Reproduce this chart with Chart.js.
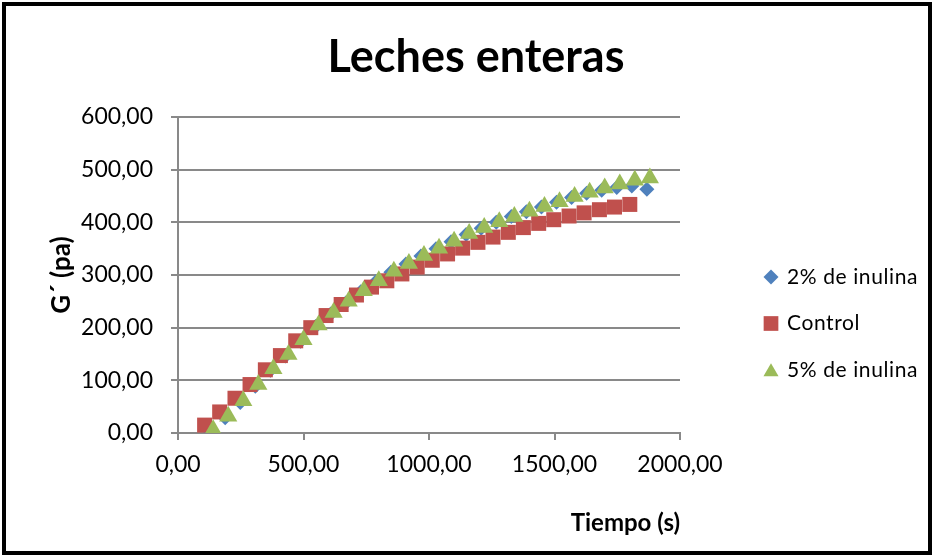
<!DOCTYPE html>
<html>
<head>
<meta charset="utf-8">
<script src="https://cdn.jsdelivr.net/npm/chart.js@4.4.0/dist/chart.umd.min.js"></script>
<style>
body { margin: 0; background: #fff; }
</style>
</head>
<body>
<canvas id="grafico" width="934" height="556"></canvas>
<script>
// Tiempo (s) y G´ (pa) de cada muestra
const tiempo2 = [128, 188, 248, 308, 368, 428, 488, 548, 608, 668, 728, 788, 848, 908, 968,
    1028, 1088, 1148, 1208, 1268, 1328, 1388, 1448, 1508, 1568, 1628, 1688, 1748, 1808, 1868];
const inulina2 = [3, 29, 58, 89, 119, 146, 174, 202, 226, 247, 268, 287, 305, 321, 336,
    350, 363, 377, 389, 400, 411, 420, 429, 438, 447, 455, 461, 466, 469, 463];

const tiempoControl = [106, 166, 227, 287, 348, 408, 469, 529, 590, 650, 711, 771, 832, 892, 953,
    1013, 1074, 1134, 1195, 1255, 1316, 1376, 1437, 1497, 1558, 1618, 1679, 1739, 1800];
const control = [15, 40, 66, 92, 120, 147, 175, 200, 223, 244, 262, 277, 289, 302, 315,
    328, 340, 351, 362, 372, 381, 390, 398, 405, 412, 418, 424, 429, 434];

const tiempo5 = [140, 200, 260, 320, 380, 440, 500, 560, 620, 680, 740, 800, 860, 920, 980,
    1040, 1100, 1160, 1220, 1280, 1340, 1400, 1460, 1520, 1580, 1640, 1700, 1760, 1820, 1880];
const inulina5 = [6, 32, 61, 92, 122, 149, 177, 205, 229, 250, 270, 289, 307, 322, 337,
    351, 364, 379, 390, 401, 411, 421, 430, 439, 449, 457, 465, 473, 480, 484];

const nombres = ['2% de inulina', 'Control', '5% de inulina'];
const colores = ['#4f81bd', '#c0504d', '#9bbb59'];
const formas = ['rectRot', 'rect', 'triangle'];

const ejeX = { min: 0, max: 2000, paso: 500 };
const ejeY = { min: 0, max: 600, paso: 100 };

const titulo = 'Leches enteras';

const gris = '#898989';
const fuente = 'Lato, "Open Sans", sans-serif';

function puntos(xs, ys) {
    return xs.map((x, i) => ({ x: x, y: ys[i] }));
}

function conComa(v) {
    return Number(v).toFixed(2).replace('.', ',');
}

// fondo blanco, titulo y marco negro
const marco = {
    id: 'marco',
    beforeDraw(chart) {
        const ctx = chart.ctx;
        ctx.save();
        ctx.fillStyle = '#fff';
        ctx.fillRect(0, 0, chart.width, chart.height);
        ctx.restore();
    },
    afterDraw(chart) {
        const ctx = chart.ctx;
        ctx.save();
        ctx.fillStyle = '#000';
        ctx.font = 'bold 45px ' + fuente;
        ctx.textAlign = 'center';
        ctx.textBaseline = 'middle';
        ctx.fillText(titulo, 476, 57);
        ctx.strokeStyle = '#000';
        ctx.lineWidth = 4;
        ctx.strokeRect(4, 4, 926, 549);
        ctx.restore();
    }
};

// leyenda a la derecha, dibujada a mano
const radiosLeyenda = [7.5, 10.4, 8.7];
const leyenda = {
    id: 'leyenda',
    afterDraw(chart) {
        const ctx = chart.ctx;
        ctx.save();
        chart.data.datasets.forEach((ds, i) => {
            const y = 277 + i * 46.5;
            const ajuste = ds.pointStyle === 'triangle' ? 2 : 0;
            ctx.fillStyle = ds.backgroundColor;
            Chart.helpers.drawPoint(ctx, {
                pointStyle: ds.pointStyle,
                radius: radiosLeyenda[i],
                rotation: 0,
                borderWidth: 0
            }, 771, y + ajuste);
            ctx.fillStyle = '#000';
            ctx.font = '21px ' + fuente;
            ctx.letterSpacing = '0.6px';
            ctx.textBaseline = 'middle';
            ctx.textAlign = 'left';
            ctx.fillText(ds.label, 787, y);
        });
        ctx.restore();
    }
};

const series = [
    puntos(tiempo2, inulina2),
    puntos(tiempoControl, control),
    puntos(tiempo5, inulina5)
];
const radios = [7.5, 10.6, 10.5];

const ctx = document.getElementById('grafico').getContext('2d');
new Chart(ctx, {
    type: 'scatter',
    data: {
        datasets: series.map((datos, i) => ({
            label: nombres[i],
            data: datos,
            pointStyle: formas[i],
            backgroundColor: colores[i],
            borderColor: colores[i],
            borderWidth: 0,
            pointRadius: radios[i],
            pointHoverRadius: radios[i],
            order: 3 - i
        }))
    },
    options: {
        responsive: false,
        animation: false,
        events: [],
        layout: {
            padding: { left: 10, right: 254, top: 117, bottom: 10 }
        },
        plugins: {
            legend: { display: false },
            tooltip: { enabled: false },
            title: { display: false }
        },
        scales: {
            x: {
                type: 'linear',
                min: ejeX.min,
                max: ejeX.max,
                afterFit(scale) { scale.height = 113; },
                ticks: {
                    stepSize: ejeX.paso,
                    color: '#000',
                    padding: 11,
                    maxRotation: 0,
                    font: { family: fuente, size: 23 },
                    callback: conComa
                },
                grid: {
                    drawOnChartArea: false,
                    drawTicks: true,
                    tickLength: 7,
                    color: gris,
                    lineWidth: 2
                },
                border: { color: gris, width: 2 },
                title: {
                    display: true,
                    text: 'Tiempo (s)',
                    align: 'end',
                    color: '#000',
                    font: { family: fuente, size: 24, weight: 'bold' },
                    padding: { top: 0, bottom: 8.6 }
                }
            },
            y: {
                type: 'linear',
                min: ejeY.min,
                max: ejeY.max,
                afterFit(scale) { scale.width = 168; },
                ticks: {
                    stepSize: ejeY.paso,
                    color: '#000',
                    padding: 18,
                    font: { family: fuente, size: 23 },
                    callback: conComa
                },
                grid: {
                    drawTicks: true,
                    tickLength: 7,
                    color: gris,
                    lineWidth: 2
                },
                border: { color: gris, width: 2 },
                title: {
                    display: true,
                    text: 'G´ (pa)',
                    color: '#000',
                    font: { family: fuente, size: 26, weight: 'bold' },
                    padding: { top: 36.4, bottom: 0 }
                }
            }
        }
    },
    plugins: [marco, leyenda]
});
</script>
</body>
</html>
